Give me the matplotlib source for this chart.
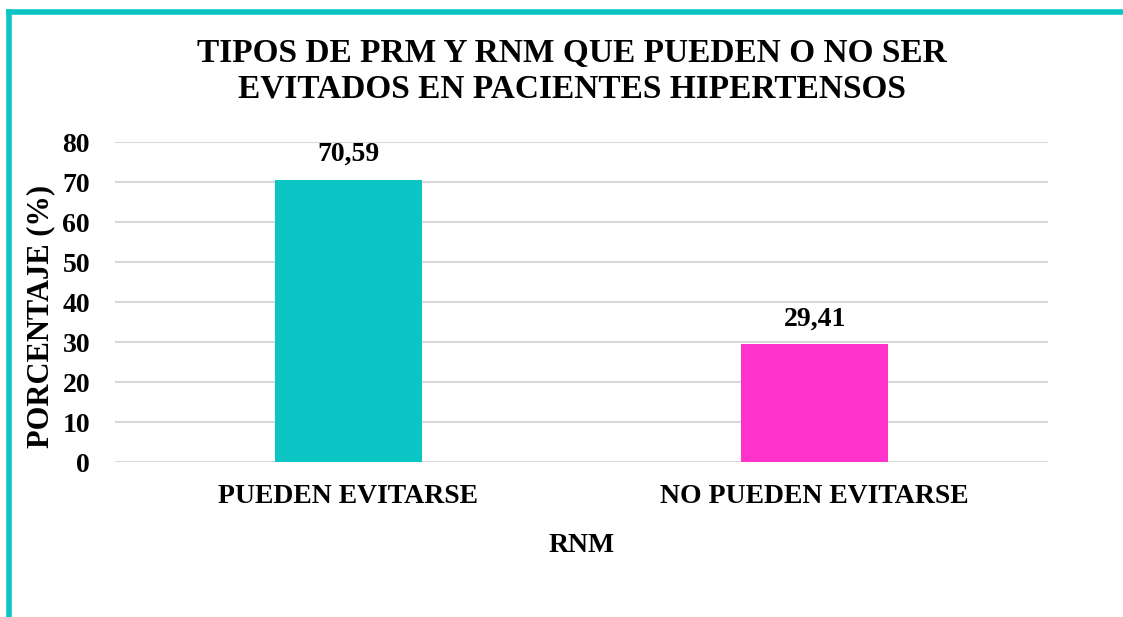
import matplotlib.pyplot as plt
from matplotlib.lines import Line2D

categorias = ["PUEDEN EVITARSE", "NO PUEDEN EVITARSE"]
porcentajes = [70.59, 29.41]
etiquetas = ["70,59", "29,41"]
colores = ["#0BC5C5", "#FF33CC"]

plt.rcParams['font.family'] = ['Liberation Serif', 'DejaVu Serif']
plt.rcParams['font.weight'] = 'bold'

fig = plt.figure(figsize=(11.23, 6.17), dpi=100)
ax = fig.add_axes([115/1123, 1 - 462/617, 933/1123, 320/617])

x = range(len(categorias))
bars = ax.bar(x, porcentajes, width=0.315, color=colores, zorder=3)
for b, t in zip(bars, etiquetas):
    ax.text(b.get_x() + b.get_width()/2, b.get_height() + 6.4, t,
            ha='center', va='center', fontsize=20, fontweight='bold')

ax.set_xlim(-0.5, 1.5)
ax.set_ylim(0, 80)
ax.set_yticks(range(0, 81, 10))
ax.yaxis.grid(True, color='#D9D9D9', linewidth=1.5, zorder=0)
for s in ax.spines.values():
    s.set_visible(False)
ax.tick_params(length=0, labelsize=20)
ax.tick_params(axis='y', pad=18)
ax.tick_params(axis='x', pad=16)
ax.set_xticks(list(x))
ax.set_xticklabels(categorias, fontweight='bold')
for lab in ax.get_yticklabels():
    lab.set_fontweight('bold')

ax.set_xlabel("RNM", fontsize=20, fontweight='bold')
ax.xaxis.set_label_coords(0.5, -83/320)
ax.xaxis.label.set_va('center')
ax.set_ylabel("PORCENTAJE (%)", fontsize=22, fontweight='bold')
ax.yaxis.set_label_coords(-74/933, 146/320)
ax.yaxis.label.set_va('center')

fig.text(572/1123, 1 - 71/617,
         "TIPOS DE PRM Y RNM QUE PUEDEN O NO SER\nEVITADOS EN PACIENTES HIPERTENSOS",
         ha='center', va='center', fontsize=24, fontweight='bold', linespacing=1.2)

# marco turquesa (arriba e izquierda)
c = "#0BC5C5"
fig.add_artist(Line2D([9/1123, 1], [1 - 12/617, 1 - 12/617], color=c, linewidth=4))
fig.add_artist(Line2D([9/1123, 9/1123], [0, 1 - 12/617], color=c, linewidth=4))

fig.savefig("out.png", dpi=100)
